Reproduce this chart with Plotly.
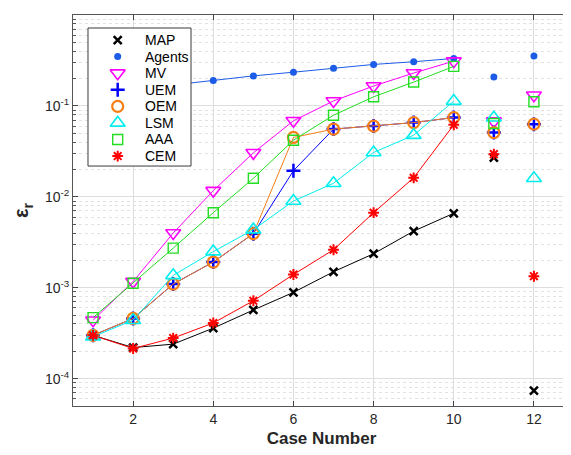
import math
import plotly.graph_objects as go

cases = [1, 2, 3, 4, 5, 6, 7, 8, 9, 10, 11, 12]
MAP = [3.0e-4, 2.2e-4, 2.4e-4, 3.6e-4, 5.7e-4, 8.9e-4, 1.5e-3, 2.37e-3, 4.2e-3, 6.6e-3, 0.027, 7.4e-5]
Agents = [0.135, 0.15, 0.17, 0.191, 0.214, 0.235, 0.26, 0.286, 0.306, 0.333, 0.208, 0.353]
MV = [4.4e-4, 1.17e-3, 4.0e-3, 0.0117, 0.0305, 0.0686, 0.1135, 0.1655, 0.23, 0.311, 0.068, 0.131]
UEM = [3.0e-4, 4.6e-4, 1.1e-3, 1.92e-3, 3.94e-3, 0.0194, 0.0556, 0.060, 0.0656, 0.0745, 0.051, 0.063]
OEM = [3.0e-4, 4.6e-4, 1.1e-3, 1.92e-3, 3.94e-3, 0.045, 0.0556, 0.060, 0.0656, 0.0745, 0.051, 0.063]
LSM = [2.9e-4, 4.4e-4, 1.37e-3, 2.5e-3, 4.36e-3, 9.0e-3, 0.0141, 0.0308, 0.0477, 0.113, 0.074, 0.016]
AAA = [4.7e-4, 1.12e-3, 2.73e-3, 6.7e-3, 0.016, 0.042, 0.079, 0.126, 0.183, 0.272, 0.064, 0.111]
CEM = [3.0e-4, 2.15e-4, 2.8e-4, 4.1e-4, 7.2e-4, 1.4e-3, 2.62e-3, 6.7e-3, 0.0162, 0.062, 0.0295, 1.34e-3]
n_connected = 10

series = [
    ("MAP", MAP, "#000000", "x-thin", 8, 2.5),
    ("Agents", Agents, "#1c5ce6", "circle", 7, 0),
    ("MV", MV, "#ff00ff", "triangle-down-open", 13, 1.6),
    ("UEM", UEM, "#0000ff", "cross-thin", 10, 2.5),
    ("OEM", OEM, "#f57f17", "circle-open", 11, 2.2),
    ("LSM", LSM, "#00eeee", "triangle-up-open", 13, 1.6),
    ("AAA", AAA, "#22dd22", "square-open", 10, 1.4),
    ("CEM", CEM, "#ff0000", "asterisk-open", 9, 2.0),
]

fig = go.Figure()
for name, vals, color, sym, size, lw in series:
    xs, ys = [], []
    for i, (c, v) in enumerate(zip(cases, vals)):
        if i >= n_connected:
            xs.append(None)
            ys.append(None)
        xs.append(c)
        ys.append(v)
    marker = dict(symbol=sym, size=size, color=color)
    if lw:
        marker["line"] = dict(color=color, width=lw)
    fig.add_trace(go.Scatter(x=xs, y=ys, mode="lines+markers", name=name,
                             line=dict(color=color, width=1),
                             marker=marker, showlegend=False,
                             connectgaps=False))

# ---- manual MATLAB-style legend box (axis coordinates; y given as log10) ----
leg_x0, leg_x1 = 0.874, 3.444
leg_ylog_top, leg_ylog_bot = -0.143, -1.661
leg_marker_x, leg_text_x = 1.615, 2.254
leg_first_ylog, leg_step_log = -0.275, 0.1823
fig.add_trace(go.Scatter(x=[leg_x0, leg_x1, leg_x1, leg_x0, leg_x0],
                         y=[10 ** leg_ylog_bot, 10 ** leg_ylog_bot, 10 ** leg_ylog_top,
                            10 ** leg_ylog_top, 10 ** leg_ylog_bot],
                         mode="lines", fill="toself", fillcolor="white",
                         line=dict(color="#3a3a3a", width=1),
                         showlegend=False, hoverinfo="skip"))
annotations = []
for k, (name, vals, color, sym, size, lw) in enumerate(series):
    ylog = leg_first_ylog - k * leg_step_log
    marker = dict(symbol=sym, size=size, color=color)
    if lw:
        marker["line"] = dict(color=color, width=lw)
    fig.add_trace(go.Scatter(x=[leg_marker_x], y=[10 ** ylog], mode="markers",
                             marker=marker, showlegend=False, hoverinfo="skip"))
    annotations.append(dict(x=leg_text_x, y=ylog, xref="x", yref="y", text=name,
                            showarrow=False, xanchor="left", yanchor="middle",
                            font=dict(size=14, color="#000000")))

ytickvals = [1e-4, 1e-3, 1e-2, 1e-1, 1]
yticktext = ["10<sup>-4</sup>", "10<sup>-3</sup>", "10<sup>-2</sup>", "10<sup>-1</sup>", "10<sup>0</sup>"]
xtickvals = [2, 4, 6, 8, 10, 12]
minor_vals = [m * 10.0 ** e for e in range(-5, 0) for m in range(2, 10)]

fig.update_layout(
    width=563, height=447,
    margin=dict(l=65, r=1, t=7, b=49),
    paper_bgcolor="white", plot_bgcolor="white",
    font=dict(family="Liberation Sans, Arial, sans-serif", size=14, color="#262626"),
    showlegend=False,
    annotations=annotations,
    xaxis=dict(range=[0.5, 12.9], tickvals=xtickvals, ticks="inside", ticklen=5,
               showline=True, linecolor="#555555", linewidth=1, mirror="allticks",
               showgrid=True, gridcolor="#dddddd", gridwidth=1, zeroline=False,
               automargin=False,
               title=dict(text="<b>Case Number</b>", font=dict(size=17), standoff=6),
               tickfont=dict(size=14)),
    yaxis=dict(type="log", range=[-4.3, 0], tickvals=ytickvals, ticktext=yticktext,
               ticks="inside", ticklen=5, automargin=False,
               showline=True, linecolor="#555555", linewidth=1, mirror="allticks",
               showgrid=True, gridcolor="#dddddd", gridwidth=1, zeroline=False,
               minor=dict(tickvals=minor_vals, ticks="inside", ticklen=3, showgrid=True,
                          gridcolor="#e2e2e2", griddash="dot", tickcolor="#555555"),
               title=dict(text="<b>\u03b5<sub>r</sub></b>", font=dict(size=20), standoff=10),
               tickfont=dict(size=14)),
)

fig.write_html("out.html")
